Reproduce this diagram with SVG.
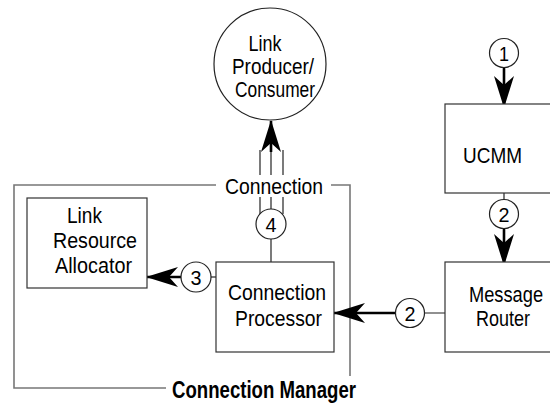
<svg xmlns="http://www.w3.org/2000/svg" width="550" height="405" viewBox="0 0 550 405">
  <style>
    .t { font-family: "Liberation Sans", Arial, sans-serif; font-size: 22px; fill: #000; }
    .b { font-family: "Liberation Sans", Arial, sans-serif; font-size: 23px; font-weight: bold; fill: #000; }
    .box { fill: #fff; stroke: #333; stroke-width: 1.2; }
    .node { fill: #fff; stroke: #222; stroke-width: 1.2; }
    .num { font-family: "Liberation Sans", Arial, sans-serif; font-size: 21px; fill: #000; text-anchor: middle; }
    .ln { stroke: #222; stroke-width: 1.2; fill: none; }
    .arr { stroke: #000; stroke-width: 2.6; fill: none; }
    .frame { stroke: #777; stroke-width: 1.6; fill: none; }
  </style>
  <defs>
    <marker id="head" markerUnits="userSpaceOnUse" viewBox="0 0 32 20" refX="31" refY="10" markerWidth="32" markerHeight="20" orient="auto">
      <path d="M0,0 L32,10 L0,20 L9,10 Z" fill="#000"/>
    </marker>
  </defs>

  <!-- Connection Manager frame with its two labels -->
  <g id="connection-manager">
    <path class="frame" d="M216,185 H14 V388 H166"/>
    <path class="frame" d="M331,185 H350 V376"/>
    <text class="b" x="172" y="398" textLength="184" lengthAdjust="spacingAndGlyphs">Connection Manager</text>
    <text class="t" x="225" y="194" textLength="98" lengthAdjust="spacingAndGlyphs">Connection</text>
  </g>

  <g id="connectors">
    <!-- 1 into UCMM -->
    <line class="arr" x1="504" y1="67" x2="504" y2="107" marker-end="url(#head)"/>
    <!-- UCMM to 2 to Message Router -->
    <line class="ln" x1="504" y1="193" x2="504" y2="200"/>
    <line class="arr" x1="504" y1="228" x2="504" y2="265" marker-end="url(#head)"/>
    <!-- Message Router to 2 to Connection Processor -->
    <line class="ln" x1="463" y1="313" x2="425" y2="313"/>
    <line class="arr" x1="395" y1="313" x2="334" y2="313" marker-end="url(#head)"/>
    <!-- Connection Processor to 3 to Link Resource Allocator -->
    <line class="ln" x1="211" y1="277" x2="216" y2="277"/>
    <line class="arr" x1="181" y1="277" x2="147" y2="277" marker-end="url(#head)"/>
    <!-- Connection Processor to 4 to Link Producer/Consumer -->
    <line class="ln" x1="271" y1="239" x2="271" y2="262"/>
    <line class="ln" x1="271" y1="209" x2="271" y2="197"/>
    <line class="ln" x1="260" y1="214" x2="260" y2="197"/>
    <line class="ln" x1="283" y1="214" x2="283" y2="197"/>
    <line class="ln" x1="260" y1="175" x2="260" y2="150"/>
    <line class="ln" x1="283" y1="175" x2="283" y2="150"/>
    <line class="ln" x1="271" y1="175" x2="271" y2="140"/>
    <line class="arr" x1="271" y1="152" x2="271" y2="121" marker-end="url(#head)"/>
  </g>

  <g id="link-producer-consumer">
    <circle class="node" cx="270" cy="64" r="56"/>
    <text class="t" x="265" y="51" text-anchor="middle" textLength="33" lengthAdjust="spacingAndGlyphs">Link</text>
    <text class="t" x="273" y="74" text-anchor="middle" textLength="82" lengthAdjust="spacingAndGlyphs">Producer/</text>
    <text class="t" x="275" y="97" text-anchor="middle" textLength="80" lengthAdjust="spacingAndGlyphs">Consumer</text>
  </g>

  <g id="ucmm">
    <rect class="box" x="445" y="104" width="120" height="89"/>
    <text class="t" x="463" y="163" textLength="59" lengthAdjust="spacingAndGlyphs">UCMM</text>
  </g>

  <g id="message-router">
    <rect class="box" x="445" y="262" width="120" height="90"/>
    <text class="t" transform="translate(469,302) scale(0.83,1)">Message</text>
    <text class="t" x="476" y="326" textLength="54" lengthAdjust="spacingAndGlyphs">Router</text>
  </g>

  <g id="connection-processor">
    <rect class="box" x="216" y="262" width="118" height="90"/>
    <text class="t" x="228" y="300" textLength="98" lengthAdjust="spacingAndGlyphs">Connection</text>
    <text class="t" x="235" y="326" textLength="87" lengthAdjust="spacingAndGlyphs">Processor</text>
  </g>

  <g id="link-resource-allocator">
    <rect class="box" x="27" y="198" width="120" height="90"/>
    <text class="t" x="67" y="223" textLength="35" lengthAdjust="spacingAndGlyphs">Link</text>
    <text class="t" x="53" y="248" textLength="84" lengthAdjust="spacingAndGlyphs">Resource</text>
    <text class="t" x="55" y="273" textLength="77" lengthAdjust="spacingAndGlyphs">Allocator</text>
  </g>

  <g id="step-1">
    <circle class="node" cx="504" cy="53" r="14.5"/>
    <text class="num" x="504" y="61" textLength="10" lengthAdjust="spacingAndGlyphs">1</text>
  </g>
  <g id="step-2a">
    <circle class="node" cx="504" cy="214" r="14.5"/>
    <text class="num" x="504" y="222" textLength="11" lengthAdjust="spacingAndGlyphs">2</text>
  </g>
  <g id="step-2b">
    <circle class="node" cx="410" cy="313" r="14.5"/>
    <text class="num" x="410" y="321" textLength="11" lengthAdjust="spacingAndGlyphs">2</text>
  </g>
  <g id="step-3">
    <circle class="node" cx="196" cy="277" r="15"/>
    <text class="num" x="196" y="285" textLength="11" lengthAdjust="spacingAndGlyphs">3</text>
  </g>
  <g id="step-4">
    <circle class="node" cx="271" cy="224" r="15"/>
    <text class="num" x="271" y="232" textLength="11" lengthAdjust="spacingAndGlyphs">4</text>
  </g>
</svg>
